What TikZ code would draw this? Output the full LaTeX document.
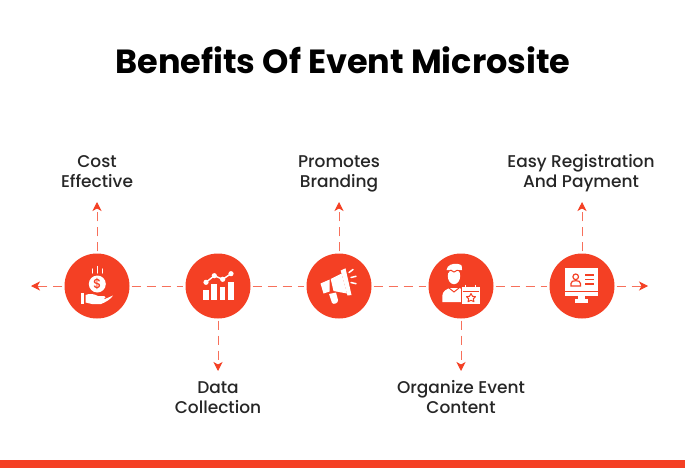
\documentclass[tikz,border=0pt]{standalone}
\usepackage{fontspec}
\usetikzlibrary{arrows.meta}
\setmainfont{Poppins}
\newfontfamily\labelfont{Poppins Medium}
\newfontfamily\titlefont{Poppins Bold}
\definecolor{brand}{HTML}{F44024}
\tikzset{
  hub/.style={circle,fill=brand,minimum size=65pt,inner sep=0pt},
  link/.style={draw=brand!75,line width=1pt,dash pattern=on 9pt off 6pt,shorten <=2pt,shorten >=0pt,-{Stealth[length=9pt,width=9pt,inset=2.5pt,color=brand]}},
  plain/.style={draw=brand!75,line width=1pt,dash pattern=on 9pt off 6pt,shorten <=2pt,shorten >=2pt},
  caption/.style={align=center,font=\labelfont\fontsize{17}{20}\selectfont,text=black!85,inner sep=0pt},
  ico/.style={fill=white,draw=none},
  icoline/.style={draw=white,line width=1.6pt,line cap=round},
  redline/.style={draw=brand,line width=1pt}
}
\begin{document}
\begin{tikzpicture}[x=1pt,y=-1pt]
\useasboundingbox (0,0) rectangle (685,468);
\fill[white] (0,0) rectangle (685,468);
\fill[brand] (0,460) rectangle (685,468);
\node[inner sep=0pt,font=\titlefont\fontsize{33.5}{38}\selectfont] (title) at (343,60) {Benefits Of Event Microsite};
\node[hub] (c1) at (97,286) {};
\node[hub] (c2) at (218,286) {};
\node[hub] (c3) at (339,286) {};
\node[hub] (c4) at (461,286) {};
\node[hub] (c5) at (582,286) {};
\coordinate (w) at (31,286);
\coordinate (e) at (648,286);
\coordinate (u1) at (97,202);
\coordinate (d2) at (218,371);
\coordinate (u3) at (339,202);
\coordinate (d4) at (461,371);
\coordinate (u5) at (582,202);
\draw[link] (c1) -- (w);
\draw[plain] (c1) -- (c2);
\draw[plain] (c2) -- (c3);
\draw[plain] (c3) -- (c4);
\draw[plain] (c4) -- (c5);
\draw[link] (c5) -- (e);
\draw[link] (c1) -- (u1);
\draw[link] (c2) -- (d2);
\draw[link] (c3) -- (u3);
\draw[link] (c4) -- (d4);
\draw[link] (c5) -- (u5);
\node[caption] (l1) at (97,172) {Cost\\Effective};
\node[caption] (l2) at (218,398) {Data\\Collection};
\node[caption] (l3) at (339,173.5) {Promotes\\Branding};
\node[caption] (l4) at (461,397) {Organize Event\\Content};
\node[caption] (l5) at (581,173) {Easy Registration\\And Payment};
% icon 1: coin and hand
\fill[white] (97.3,284) circle (8.5);
\node[inner sep=0pt,text=brand,font=\labelfont\fontsize{13}{13}\selectfont] at (97.3,284) {\$};
\draw[icoline,line width=1.3pt] (92.3,269) -- (92.3,273) (97.5,266.5) -- (97.5,273) (102.5,269) -- (102.5,273);
\fill[ico] (80.7,293) rectangle (84,304);
\fill[ico] (85.5,295) .. controls (90,293) and (94,294) .. (98,296) -- (104,296) .. controls (106,296) and (106,298.5) .. (104,299) -- (97,299.5) -- (105,299) -- (113,295.5) .. controls (111,299) and (106,302) .. (101,304) -- (92,304) -- (85.5,302.5) -- cycle;
% icon 2: chart
\fill[ico] (203,290) rectangle (208.5,300);
\fill[ico] (211,284) rectangle (216.7,300);
\fill[ico] (219.7,286.7) rectangle (225,300);
\fill[ico] (228,281.7) rectangle (233.7,300);
\draw[icoline,line width=1.4pt] (206,282.3) -- (214.3,275.7) -- (222.7,279.3) -- (231,273.7);
\foreach \p in {(206,282.3),(214.3,275.7),(222.7,279.3),(231,273.7)} \fill[white] \p circle (2.6);
% icon 3: megaphone
\fill[ico] (320.5,283.5) -- (329.7,279.5) -- (329.7,291.5) -- (323.5,293.5) -- cycle;
\fill[ico] (330.7,279) -- (341.5,273.5) -- (347,293.5) -- (333.5,291) -- cycle;
\fill[ico] (340.7,270.5) -- (345.5,268.3) -- (351.5,295) -- (347.5,295.5) -- cycle;
\fill[ico] (329,294) -- (336,292.5) -- (338,300) .. controls (338.5,303) and (334,305) .. (332,303) -- cycle;
\draw[icoline,line width=1.5pt] (349,272.5) -- (353,269.5) (351,277.5) -- (356,276.3) (351,282.5) -- (356,283.7);
% icon 4: person and calendar
\fill[ico] (454,276) ellipse (6.2 and 8.2);
\fill[ico] (446.5,270) .. controls (447,265) and (453,263) .. (458,264) .. controls (462,264.5) and (462,266) .. (462,270) -- cycle;
\draw[redline] (447.5,273) .. controls (450,269) and (452,270) .. (454,272) .. controls (456,270) and (458,269.5) .. (461,272);
\fill[ico] (442.3,302) -- (442.3,296) .. controls (442.3,291) and (447,289) .. (450,288) -- (459,288) .. controls (462,288.5) and (464,290) .. (464,292) -- (464,302) -- cycle;
\draw[redline] (449,288) -- (454,292) -- (459,288);
\draw[brand,line width=1pt,fill=white] (461.5,286) rectangle (480,304);
\draw[redline,line width=0.8pt] (462.5,291.5) -- (479,291.5);
\draw[white,line width=1.3pt] (465.5,284.5) -- (465.5,288) (475.5,284.5) -- (475.5,288);
\draw[redline,line width=1pt,line join=round] (471,293.5) -- (472.5,296.3) -- (475.5,296.7) -- (473.3,298.8) -- (474,301.7) -- (471,300.3) -- (468,301.7) -- (468.7,298.8) -- (466.5,296.7) -- (469.5,296.3) -- cycle;
% icon 5: monitor
\fill[ico] (565,268.3) rectangle (598,295.7);
\fill[brand] (565,290.7) rectangle (598,292.3);
\fill[ico] (578.3,295.7) rectangle (584.5,299);
\fill[ico] (575,299) rectangle (587.7,302.7);
\draw[redline,line width=1.2pt] (575.7,276.8) circle (2.8);
\draw[redline,line width=1.2pt] (571,286) -- (571,283.5) .. controls (571,281.3) and (573,280.7) .. (575.7,280.7) .. controls (578.5,280.7) and (580.4,281.3) .. (580.4,283.5) -- (580.4,286) -- cycle;
\draw[redline,line width=1.2pt] (585,275) -- (594,275) (585,279.5) -- (594,279.5) (585,284) -- (594,284);
\end{tikzpicture}
\end{document}
